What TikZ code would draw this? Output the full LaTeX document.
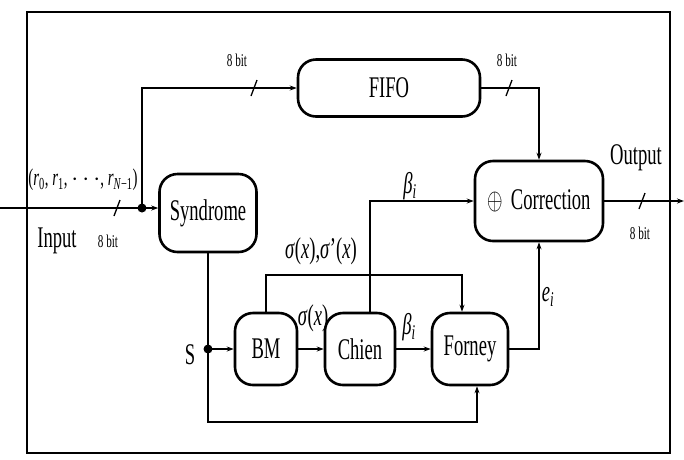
\documentclass[tikz,border=0pt]{standalone}
\usepackage{fontspec}
\setmainfont[FakeStretch=0.62]{Liberation Serif}
\usetikzlibrary{arrows.meta}
\newcommand\fs[1]{\fontsize{#1}{#1}\selectfont}
\tikzset{
  blk/.style={draw, line width=2.6pt, rounded corners=18pt, inner sep=0pt, font=\fs{30}},
  ln/.style={line width=1.3pt},
  arr/.style={ln, -{Stealth[length=7pt,width=5pt]}},
  lbl/.style={inner sep=0pt, font=\fs{30}},
  small/.style={inner sep=0pt, font=\fs{18}},
}
\begin{document}
\begin{tikzpicture}[x=1pt,y=-1pt]
\useasboundingbox (0,0) rectangle (684,459);
\draw[line width=2pt] (27,12) rectangle (670,453);
% blocks
\node[blk, minimum width=182, minimum height=57] (fifo) at (389,88) {FIFO};
\node[blk, minimum width=97, minimum height=78] (syn) at (208,213) {Syndrome};
\node[blk, minimum width=128, minimum height=80] (corr) at (539,201) {\scalebox{0.8}[1.2]{$\oplus$}\hspace{8pt}Correction};
\node[blk, minimum width=62, minimum height=72] (bm) at (266,349) {BM};
\node[blk, minimum width=70, minimum height=72] (chien) at (360,349) {Chien};
\node[blk, minimum width=76, minimum height=72] (forney) at (470,349) {Forney};
% coordinates
\coordinate (inL) at (0,208);
\coordinate (dot) at (142,208);
\coordinate (s) at (208,349);
\coordinate (sg) at (266,275);
\coordinate (outR) at (684,201);
% connectors
\draw[arr] (inL) -- (dot -| syn.west);
\fill (dot) circle (4.5pt);
\draw[arr] (dot) -- (dot |- fifo) -- (fifo.west);
\draw[arr] (fifo.east) -| (corr.north);
\draw[ln] (syn.south) -- (s);
\fill (s) circle (4.5pt);
\draw[arr] (s) -- (bm.west);
\draw[arr] (s) -- ++(0,73) -| ([xshift=7pt]forney.south);
\draw[arr] (bm.east) -- (chien.west);
\draw[arr] (chien.east) -- (forney.west);
\draw[arr] (bm.north) -- (sg) -| ([xshift=-8pt]forney.north);
\draw[arr] ([xshift=10pt]chien.north) |- (corr.west);
\draw[arr] (forney.east) -| (corr.south);
\draw[arr] (corr.east) -- (outR);
% bus slashes
\draw[ln] (114,216) -- (120,200);
\draw[ln] (251,96) -- (257,80);
\draw[ln] (506,96) -- (512,80);
\draw[ln] (639,209) -- (645,193);
% labels
\node[lbl, font=\fs{24}] (rv) at (83,180) {(\textit{r}\textsubscript{0}, \textit{r}\textsubscript{1}, $\cdots$, \textit{r}\textsubscript{\textit{N}−1})};
\node[lbl] (inp) at (57,241) {Input};
\node[small] (b1) at (108,241) {8 bit};
\node[small] (b2) at (237,60) {8 bit};
\node[small] (b3) at (507,60) {8 bit};
\node[small] (b4) at (640,233) {8 bit};
\node[lbl] (outp) at (636,158) {Output};
\node[lbl] (slab) at (190,355) {S};
\node[lbl, font=\fs{30}] (sig2) at (321,251) {\textit{σ}(\textit{x}),\textit{σ}’(\textit{x})};
\node[lbl] (sig) at (313,318) {\textit{σ}(\textit{x})};
\node[lbl] (bt1) at (409,327) {\textit{β}\textsubscript{\textit{i}}};
\node[lbl] (bt2) at (410,186) {\textit{β}\textsubscript{\textit{i}}};
\node[lbl] (ei) at (548,297) {\textit{e}\textsubscript{\textit{i}}};
\end{tikzpicture}
\end{document}
